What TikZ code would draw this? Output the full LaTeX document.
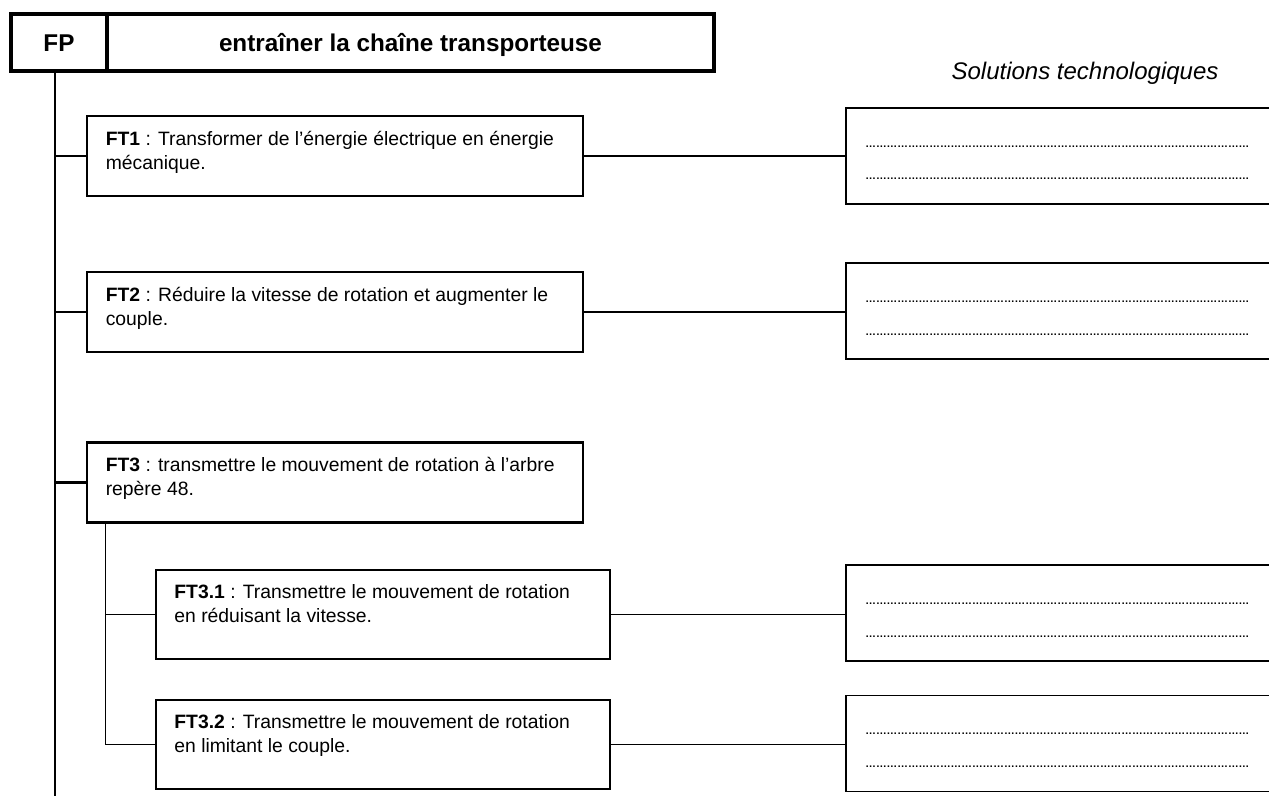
\documentclass[tikz,border=0pt]{standalone}
\usepackage{fontspec}
\setmainfont{Liberation Sans}
\usetikzlibrary{calc}
\newcommand\soldots{\foreach \i in {1,...,36}{…}}
\tikzset{
  fpbox/.style={draw, line width=2.8pt, minimum height=42.75pt, inner sep=0pt, text height=15pt, text depth=2pt, font=\bfseries\fontsize{18.2}{20}\selectfont},
  ftbox/.style={draw, line width=2.2pt, minimum width=372pt, minimum height=60pt},
  subbox/.style={draw, line width=1.3pt, minimum width=340.5pt, minimum height=66.75pt},
  solbox/.style={draw, line width=1.3pt, minimum width=333pt, minimum height=72pt},
  fttext/.style={anchor=north west, inner sep=0pt, align=left, font=\fontsize{14.5}{18}\selectfont},
  dots/.style={anchor=base west, inner sep=0pt, font=\bfseries\fontsize{8}{10}\selectfont},
  link/.style={line width=0.9pt},
  mainlink/.style={line width=1.6pt}
}
\begin{document}
\begin{tikzpicture}[x=0.75pt,y=-0.75pt]
  \useasboundingbox (0,0) rectangle (1269,795);
  \clip (0,0) rectangle (1269,795);

  \node[fpbox, minimum width=72pt] (fp) at (59,42.5) {FP};
  \node[fpbox, minimum width=455.25pt] (fptitle) at (410.5,42.5) {entraîner la chaîne transporteuse};
  \node[font=\itshape\fontsize{18}{20}\selectfont] (soltitle) at (1085,73) {Solutions technologiques};

  \coordinate (m0) at (55,71);
  \coordinate (m1) at (55,800);
  \draw[line width=2.2pt] (m0) -- (m1);

  \node[ftbox] (ft1) at (335,156) {};
  \node[fttext] (ft1t) at ($(ft1.north west)+(20,16)$) {\textbf{FT1} : Transformer de l'énergie électrique en énergie\\mécanique.};
  \node[ftbox] (ft2) at (335,312) {};
  \node[fttext] (ft2t) at ($(ft2.north west)+(20,16)$) {\textbf{FT2} : Réduire la vitesse de rotation et augmenter le\\couple.};
  \node[ftbox] (ft3) at (335,482.5) {};
  \node[fttext] (ft3t) at ($(ft3.north west)+(20,16)$) {\textbf{FT3} : transmettre le mouvement de rotation à l'arbre\\repère 48.};

  \node[subbox] (ft31) at (383,614.5) {};
  \node[fttext] (ft31t) at ($(ft31.north west)+(19,15)$) {\textbf{FT3.1} : Transmettre le mouvement de rotation\\en réduisant la vitesse.};
  \node[subbox] (ft32) at (383,744.5) {};
  \node[fttext] (ft32t) at ($(ft32.north west)+(19,15)$) {\textbf{FT3.2} : Transmettre le mouvement de rotation\\en limitant le couple.};

  \foreach \n/\y in {1/156,2/311,3/613,4/743.5}{
    \node[solbox] (sol\n) at (1068,\y) {};
    \node[dots] (sol\n-a) at ($(sol\n.west)+(20,-9)$) {\soldots};
    \node[dots] (sol\n-b) at ($(sol\n.west)+(20,24)$) {\soldots};
  }

  \draw[mainlink] (ft1.west -| m0) -- (ft1.west);
  \draw[mainlink] (ft2.west -| m0) -- (ft2.west);
  \draw[mainlink] (ft3.west -| m0) -- (ft3.west);
  \coordinate (s0) at ($(ft3.south west)+(20,0)$);
  \draw[link] (s0) |- (ft32.west);
  \draw[link] (ft31.west -| s0) -- (ft31.west);

  \draw[link] (ft1.east) -- (ft1.east -| sol1.west);
  \draw[link] (ft2.east) -- (ft2.east -| sol2.west);
  \draw[link] (ft31.east) -- (ft31.east -| sol3.west);
  \draw[link] (ft32.east) -- (ft32.east -| sol4.west);
\end{tikzpicture}
\end{document}
